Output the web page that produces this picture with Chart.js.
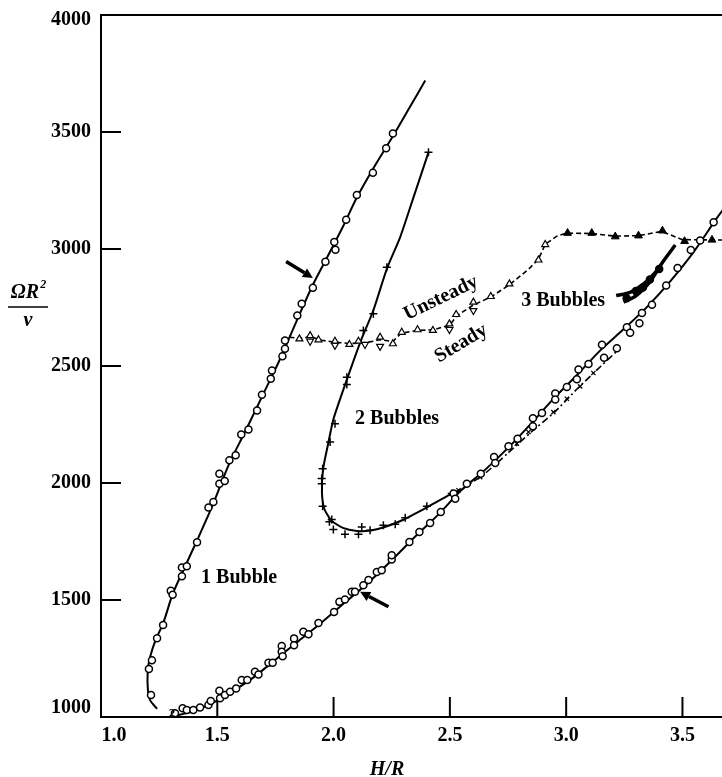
<!DOCTYPE html>
<html>
<head>
<meta charset="utf-8">
<script src="https://cdn.jsdelivr.net/npm/chart.js@4.4.1/dist/chart.umd.min.js"></script>
<style>
  html, body { margin: 0; background: #fff; overflow: hidden; }
  #wrap { width: 722px; height: 777px; position: relative; }
  canvas { display: block; }
</style>
</head>
<body>
<div id="wrap"><canvas id="chart"></canvas></div>
<script>
// tick values
const xTickValues = [1.0, 1.5, 2.0, 2.5, 3.0, 3.5];
const yTickValues = [1000, 1500, 2000, 2500, 3000, 3500, 4000];

// 1 bubble, left branch: fitted curve and measured points
const upperBranchCurve = [[1.241,1035],[1.212,1070],[1.202,1110],[1.201,1200],[1.212,1260],[1.235,1330],[1.267,1400],[1.31,1530],[1.36,1640],[1.42,1770],[1.48,1905],[1.55,2080],[1.62,2220],[1.70,2385],[1.77,2530],[1.84,2690],[1.91,2845],[1.97,2960],[2.04,3095],[2.10,3220],[2.18,3360],[2.26,3490],[2.33,3610],[2.394,3720]];
const upperBranchPoints = [[1.215,1094],[1.206,1205],[1.219,1243],[1.241,1337],[1.267,1393],[1.300,1539],[1.308,1522],[1.348,1602],[1.348,1639],[1.369,1644],[1.413,1747],[1.462,1895],[1.483,1919],[1.509,1997],[1.509,2040],[1.532,2009],[1.552,2097],[1.579,2119],[1.603,2207],[1.634,2229],[1.671,2310],[1.692,2377],[1.730,2446],[1.735,2481],[1.780,2542],[1.791,2574],[1.791,2609],[1.844,2716],[1.863,2766],[1.911,2834],[1.965,2946],[2.003,3030],[2.008,2997],[2.054,3125],[2.100,3231],[2.169,3326],[2.226,3431],[2.255,3494]];

// 1 bubble, lower branch
const lowerBranchCurve = [[1.31,1003],[1.40,1025],[1.48,1060],[1.55,1100],[1.65,1165],[1.75,1245],[1.85,1325],[1.95,1405],[2.05,1490],[2.15,1575],[2.25,1670],[2.35,1770],[2.45,1865],[2.55,1970],[2.65,2055],[2.75,2150],[2.85,2255],[2.95,2365],[3.05,2465],[3.15,2570],[3.25,2660],[3.35,2755],[3.45,2865],[3.55,2990],[3.65,3135],[3.70,3200]];
const lowerBranchPoints = [[1.318,1016],[1.351,1037],[1.369,1030],[1.397,1030],[1.426,1041],[1.462,1051],[1.472,1068],[1.509,1112],[1.512,1080],[1.533,1094],[1.555,1108],[1.581,1122],[1.605,1158],[1.629,1158],[1.662,1193],[1.677,1182],[1.720,1232],[1.738,1232],[1.777,1303],[1.777,1279],[1.781,1260],[1.830,1336],[1.830,1307],[1.870,1364],[1.892,1354],[1.935,1402],[2.002,1449],[2.025,1492],[2.049,1502],[2.078,1535],[2.092,1535],[2.128,1563],[2.150,1585],[2.186,1620],[2.207,1627],[2.250,1673],[2.250,1691],[2.326,1748],[2.369,1791],[2.415,1829],[2.461,1876],[2.516,1955],[2.523,1933],[2.573,1997],[2.633,2040],[2.690,2111],[2.695,2085],[2.752,2157],[2.791,2189],[2.857,2277],[2.857,2242],[2.896,2299],[2.953,2382],[2.953,2357],[3.003,2410],[3.046,2443],[3.053,2485],[3.096,2509],[3.154,2591],[3.163,2535],[3.218,2576],[3.261,2666],[3.275,2642],[3.315,2683],[3.326,2726],[3.369,2762],[3.430,2844],[3.479,2919],[3.536,2996],[3.576,3036],[3.634,3114]];

// 2 bubbles
const twoBubbleCurve = [[2.408,3413],[2.34,3210],[2.286,3050],[2.229,2915],[2.17,2735],[2.12,2615],[2.06,2450],[2.00,2275],[1.975,2160],[1.955,2060],[1.950,1960],[1.960,1890],[1.990,1840],[2.04,1808],[2.10,1795],[2.16,1797],[2.22,1812],[2.30,1843],[2.40,1895],[2.50,1950],[2.55,1972]];
const twoBubblePoints = [[2.408,3413],[2.229,2922],[2.171,2723],[2.128,2652],[2.057,2452],[2.057,2421],[2.006,2253],[1.985,2175],[1.953,2061],[1.949,2019],[1.949,1997],[1.953,1901],[1.992,1844],[1.982,1834],[1.999,1801],[2.049,1781],[2.107,1781],[2.121,1812],[2.157,1798],[2.214,1819],[2.265,1824],[2.308,1852],[2.401,1901],[2.508,1955]];
const twoBubbleTailCurve = [[2.55,1972],[2.65,2040],[2.75,2128],[2.85,2218],[2.95,2303],[3.05,2405],[3.15,2500],[3.22,2565]];
const twoBubbleTailPoints = [[2.537,1969],[2.630,2025],[2.788,2168],[2.838,2218],[2.945,2303],[3.003,2360],[3.060,2413],[3.117,2470]];

// 3 bubbles
const threeBubbleCurveA = [[3.215,2801],[3.275,2815],[3.333,2851],[3.390,2908],[3.419,2950],[3.469,3017]];
const threeBubbleCurveB = [[3.247,2773],[3.30,2800],[3.36,2860],[3.40,2920]];
const threeBubblePoints = [[3.26,2790],[3.30,2820],[3.33,2835],[3.36,2870],[3.40,2915]];

// steady / unsteady boundary
const boundaryCurve = [[1.81,2623],[1.853,2618],[1.90,2625],[1.95,2610],[2.00,2602],[2.07,2596],[2.14,2600],[2.20,2612],[2.255,2605],[2.29,2640],[2.36,2652],[2.43,2655],[2.50,2675],[2.53,2715],[2.60,2760],[2.68,2797],[2.76,2850],[2.84,2915],[2.88,2955],[2.91,3020],[2.96,3055],[3.00,3068],[3.11,3066],[3.21,3055],[3.31,3057],[3.41,3075],[3.50,3040],[3.63,3039],[3.70,3038]];
const unsteadyPoints = [[1.853,2616],[1.899,2630],[1.935,2612],[2.006,2606],[2.068,2592],[2.107,2606],[2.200,2623],[2.255,2595],[2.293,2644],[2.361,2655],[2.427,2652],[2.498,2680],[2.527,2720],[2.601,2773],[2.676,2797],[2.756,2851],[2.881,2953],[2.910,3019]];
const steadyPoints = [[1.899,2606],[2.006,2588],[2.135,2592],[2.200,2584],[2.498,2656],[2.601,2737]];
const threeBubbleBoundaryPoints = [[3.006,3068],[3.110,3068],[3.211,3053],[3.311,3057],[3.414,3078],[3.509,3033],[3.627,3039]];

// annotations
const arrows = [
  { from: [1.796, 2947], to: [1.911, 2876] },
  { from: [2.236, 1471], to: [2.114, 1535] }
];
const notes = [
  { text: "1 Bubble", x: 1.594, y: 1593, angle: 0, size: 20 },
  { text: "2 Bubbles", x: 2.273, y: 2276, angle: 0, size: 20 },
  { text: "3 Bubbles", x: 2.987, y: 2780, angle: 0, size: 20 },
  { text: "Unsteady", x: 2.462, y: 2790, angle: -26, size: 20 },
  { text: "Steady", x: 2.548, y: 2596, angle: -31, size: 20 },
  { text: "2", x: 1.305, y: 1013, angle: 0, size: 13 }
];

const SERIF = '"Liberation Serif", "Times New Roman", serif';
const toXY = (list) => list.map(([x, y]) => ({ x, y }));

function curve(points, extra) {
  return Object.assign({
    data: toXY(points),
    showLine: true,
    borderColor: "#000",
    borderWidth: 2,
    pointRadius: 0,
    tension: 0.3,
    fill: false,
    order: 2
  }, extra || {});
}

function markers(points, extra) {
  return Object.assign({
    data: toXY(points),
    showLine: false,
    pointStyle: "circle",
    pointRadius: 3.5,
    pointBorderWidth: 1.5,
    pointBorderColor: "#000",
    pointBackgroundColor: "#fff",
    order: 1
  }, extra || {});
}

const overlay = {
  id: "overlay",
  beforeDatasetsDraw(chart) {
    const { ctx, chartArea: a, scales: { x, y } } = chart;
    ctx.save();
    ctx.strokeStyle = "#000";
    ctx.lineWidth = 2;
    ctx.beginPath();
    ctx.moveTo(chart.width, a.top);
    ctx.lineTo(a.left, a.top);
    ctx.lineTo(a.left, a.bottom);
    ctx.lineTo(chart.width, a.bottom);
    yTickValues.forEach((v) => {
      if (v <= y.min || v >= y.max) return;
      const py = y.getPixelForValue(v);
      ctx.moveTo(a.left, py);
      ctx.lineTo(a.left + 20, py);
    });
    xTickValues.forEach((v) => {
      if (v <= x.min) return;
      const px = x.getPixelForValue(v);
      ctx.moveTo(px, a.bottom);
      ctx.lineTo(px, a.bottom - 20);
    });
    ctx.stroke();

    // tick labels (end labels nudged off the corners, as in the print)
    ctx.fillStyle = "#000";
    ctx.font = "bold 20px " + SERIF;
    ctx.textAlign = "right";
    ctx.textBaseline = "middle";
    yTickValues.forEach((v) => {
      let py = y.getPixelForValue(v);
      if (v === y.max) py += 5;
      if (v === y.min) py -= 9;
      ctx.fillText(String(v), a.left - 10, py);
    });
    ctx.textAlign = "center";
    ctx.textBaseline = "top";
    xTickValues.forEach((v) => {
      let px = x.getPixelForValue(v);
      if (v === x.min) px += 13;
      ctx.fillText(v.toFixed(1), px, a.bottom + 9);
    });
    ctx.restore();
  },
  afterDraw(chart) {
    const { ctx, scales: { x, y } } = chart;
    ctx.save();
    ctx.fillStyle = "#000";
    ctx.strokeStyle = "#000";

    // arrows
    arrows.forEach((ar) => {
      const x0 = x.getPixelForValue(ar.from[0]), y0 = y.getPixelForValue(ar.from[1]);
      const x1 = x.getPixelForValue(ar.to[0]), y1 = y.getPixelForValue(ar.to[1]);
      const ang = Math.atan2(y1 - y0, x1 - x0);
      const hx = x1 - 10 * Math.cos(ang), hy = y1 - 10 * Math.sin(ang);
      ctx.lineWidth = 3.5;
      ctx.beginPath();
      ctx.moveTo(x0, y0);
      ctx.lineTo(hx, hy);
      ctx.stroke();
      ctx.beginPath();
      ctx.moveTo(x1, y1);
      ctx.lineTo(hx + 5 * Math.sin(ang), hy - 5 * Math.cos(ang));
      ctx.lineTo(hx - 5 * Math.sin(ang), hy + 5 * Math.cos(ang));
      ctx.closePath();
      ctx.fill();
    });

    // region labels
    ctx.textAlign = "center";
    ctx.textBaseline = "middle";
    notes.forEach((n) => {
      ctx.save();
      ctx.font = "bold " + n.size + "px " + SERIF;
      ctx.translate(x.getPixelForValue(n.x), y.getPixelForValue(n.y));
      ctx.rotate(n.angle * Math.PI / 180);
      ctx.fillText(n.text, 0, 0);
      ctx.restore();
    });

    // x title
    ctx.textBaseline = "alphabetic";
    ctx.font = "italic bold 20px " + SERIF;
    ctx.fillText("H/R", 387, 775);

    // y title as a fraction
    const cx = 28;
    ctx.textAlign = "left";
    ctx.font = "italic bold 20px " + SERIF;
    const w1 = ctx.measureText("ΩR").width;
    ctx.font = "italic bold 12px " + SERIF;
    const w2 = ctx.measureText("2").width;
    const sx = cx - (w1 + w2) / 2;
    ctx.font = "italic bold 20px " + SERIF;
    ctx.fillText("ΩR", sx, 298);
    ctx.font = "italic bold 12px " + SERIF;
    ctx.fillText("2", sx + w1 + 1, 288);
    ctx.lineWidth = 1.5;
    ctx.beginPath();
    ctx.moveTo(8, 307);
    ctx.lineTo(48, 307);
    ctx.stroke();
    ctx.textAlign = "center";
    ctx.font = "italic bold 20px " + SERIF;
    ctx.fillText("ν", cx, 326);
    ctx.restore();
  }
};

new Chart(document.getElementById("chart"), {
  type: "scatter",
  data: {
    datasets: [
      markers(upperBranchPoints),
      markers(lowerBranchPoints),
      markers(twoBubblePoints, { pointStyle: "cross", pointRadius: 4, pointBorderWidth: 1.5 }),
      markers(twoBubbleTailPoints, { pointStyle: "crossRot", pointRadius: 3, pointBorderWidth: 1.3 }),
      markers(unsteadyPoints, { pointStyle: "triangle", pointRadius: 4, pointBorderWidth: 1.2 }),
      markers(steadyPoints, { pointStyle: "triangle", pointRadius: 4, pointBorderWidth: 1.2, pointRotation: 180 }),
      markers(threeBubbleBoundaryPoints, { pointStyle: "triangle", pointRadius: 4.5, pointBorderWidth: 1, pointBackgroundColor: "#000" }),
      markers(threeBubblePoints, { pointRadius: 3.5, pointBackgroundColor: "#000" }),
      curve(upperBranchCurve),
      curve(lowerBranchCurve),
      curve(twoBubbleCurve, { tension: 0.2 }),
      curve(twoBubbleTailCurve, { borderWidth: 1.6, borderDash: [7, 3, 2, 3], tension: 0.2 }),
      curve(threeBubbleCurveA, { borderWidth: 3.5 }),
      curve(threeBubbleCurveB, { borderWidth: 3.5 }),
      curve(boundaryCurve, { borderWidth: 1.6, borderDash: [5, 3], tension: 0 })
    ]
  },
  options: {
    responsive: true,
    maintainAspectRatio: false,
    animation: false,
    layout: { autoPadding: false, padding: { top: 15, right: 0, left: 0, bottom: 0 } },
    plugins: {
      legend: { display: false },
      tooltip: { enabled: false }
    },
    scales: {
      x: {
        type: "linear",
        min: 1.0,
        max: 3.67,
        grid: { display: false, drawTicks: false },
        border: { display: false },
        afterBuildTicks: (s) => { s.ticks = xTickValues.map((v) => ({ value: v })); },
        afterFit: (s) => { s.height = 60; s.paddingLeft = 0; s.paddingRight = 0; },
        ticks: { display: false }
      },
      y: {
        type: "linear",
        min: 1000,
        max: 4000,
        grid: { display: false, drawTicks: false },
        border: { display: false },
        afterBuildTicks: (s) => { s.ticks = yTickValues.map((v) => ({ value: v })); },
        afterFit: (s) => { s.width = 101; s.paddingTop = 0; s.paddingBottom = 0; },
        ticks: { display: false }
      }
    }
  },
  plugins: [overlay]
});
</script>
</body>
</html>
